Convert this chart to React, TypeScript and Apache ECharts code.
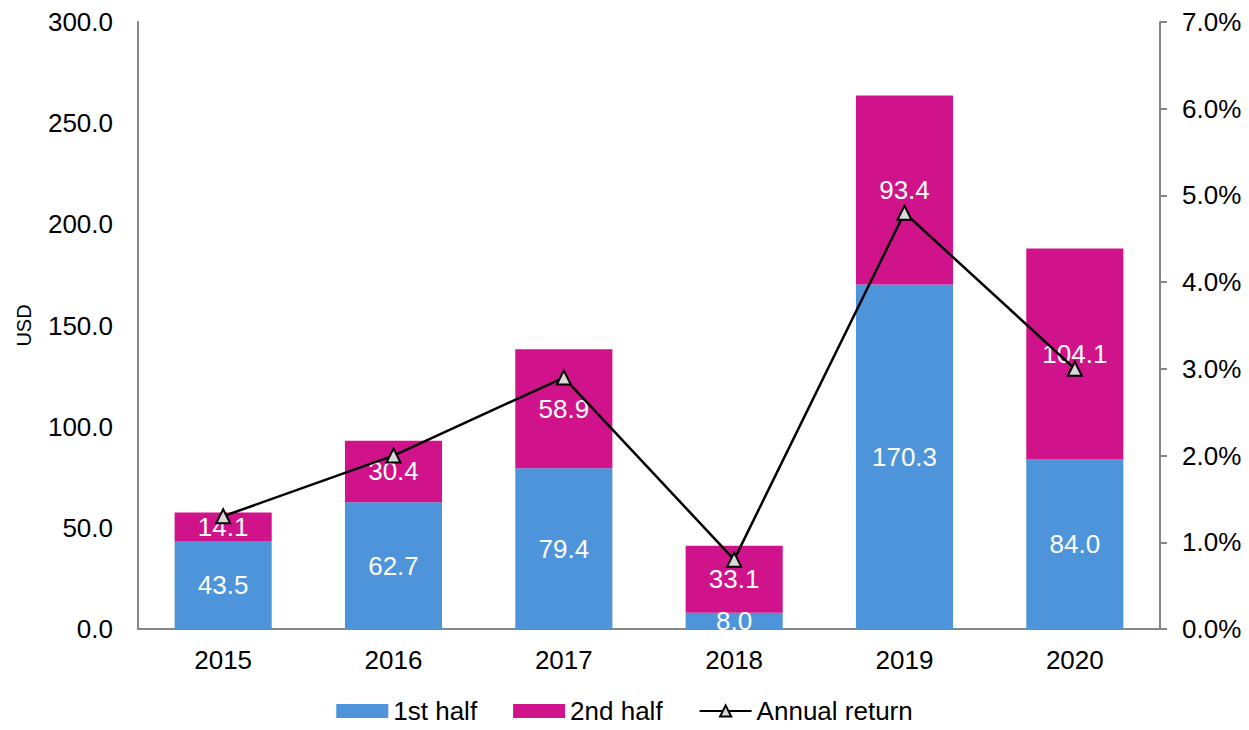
import React, { useEffect, useRef } from "react";
import * as echarts from "echarts";

const years = ["2015", "2016", "2017", "2018", "2019", "2020"];
const firstHalf = [43.5, 62.7, 79.4, 8.0, 170.3, 84.0];
const secondHalf = [14.1, 30.4, 58.9, 33.1, 93.4, 104.1];
const annualReturn = [1.3, 2.0, 2.9, 0.8, 4.8, 3.0];

const FONT = "Liberation Sans, Arial, sans-serif";

export default function App() {
  const ref = useRef<HTMLDivElement>(null);
  useEffect(() => {
    if (!ref.current) return;
    const chart = echarts.init(ref.current, null, { renderer: "svg" });
    const barLabel = {
      show: true,
      position: "inside",
      color: "#ffffff",
      fontSize: 26,
      fontFamily: FONT,
      formatter: (p: any) => Number(p.value).toFixed(1),
    };
    chart.setOption({
      animation: false,
      textStyle: { fontFamily: FONT },
      grid: {
        left: 138,
        right: 89,
        top: 22,
        bottom: 101,
        containLabel: false,
        outerBoundsMode: "none",
      },
      legend: {
        top: 698,
        left: "center",
        padding: [0, 5, 0, 5],
        itemWidth: 52,
        itemHeight: 14,
        itemGap: 36,
        textStyle: { fontSize: 26, color: "#000", fontFamily: FONT },
        data: [
          { name: "1st half", icon: "rect" },
          { name: "2nd half", icon: "rect" },
          { name: "Annual return" },
        ],
      },
      xAxis: {
        type: "category",
        data: years,
        axisLine: { lineStyle: { color: "#868686", width: 2 } },
        axisTick: { show: false },
        axisLabel: { fontSize: 26, color: "#000", margin: 18, fontFamily: FONT },
      },
      yAxis: [
        {
          type: "value",
          min: 0,
          max: 300,
          interval: 50,
          name: "USD",
          nameLocation: "middle",
          nameGap: 104,
          nameRotate: 90,
          nameTextStyle: { fontSize: 20, color: "#000", fontFamily: FONT },
          axisLine: { show: true, lineStyle: { color: "#868686", width: 2 } },
          axisTick: { show: false },
          splitLine: { show: false },
          axisLabel: {
            fontSize: 26,
            color: "#000",
            margin: 25,
            fontFamily: FONT,
            formatter: (v: number) => v.toFixed(1),
          },
        },
        {
          type: "value",
          min: 0,
          max: 7,
          interval: 1,
          position: "right",
          axisLine: { show: true, lineStyle: { color: "#868686", width: 2 } },
          axisTick: { show: true, length: 7, lineStyle: { color: "#868686", width: 2 } },
          splitLine: { show: false },
          axisLabel: {
            fontSize: 26,
            color: "#000",
            margin: 22,
            fontFamily: FONT,
            formatter: (v: number) => v.toFixed(1) + "%",
          },
        },
      ],
      series: [
        {
          name: "1st half",
          type: "bar",
          stack: "total",
          data: firstHalf,
          barWidth: "57%",
          itemStyle: { color: "#4E94DA" },
          label: barLabel,
        },
        {
          name: "2nd half",
          type: "bar",
          stack: "total",
          data: secondHalf,
          barWidth: "57%",
          itemStyle: { color: "#D1138B" },
          label: barLabel,
        },
        {
          name: "Annual return",
          type: "line",
          yAxisIndex: 1,
          data: annualReturn,
          symbol: "triangle",
          symbolSize: 14,
          lineStyle: { color: "#000", width: 2.5 },
          itemStyle: { color: "#D9D9D9", borderColor: "#000", borderWidth: 2 },
          z: 10,
        },
      ],
    });
    return () => chart.dispose();
  }, []);
  return <div ref={ref} style={{ width: 1249, height: 730, margin: -8 }} />;
}
